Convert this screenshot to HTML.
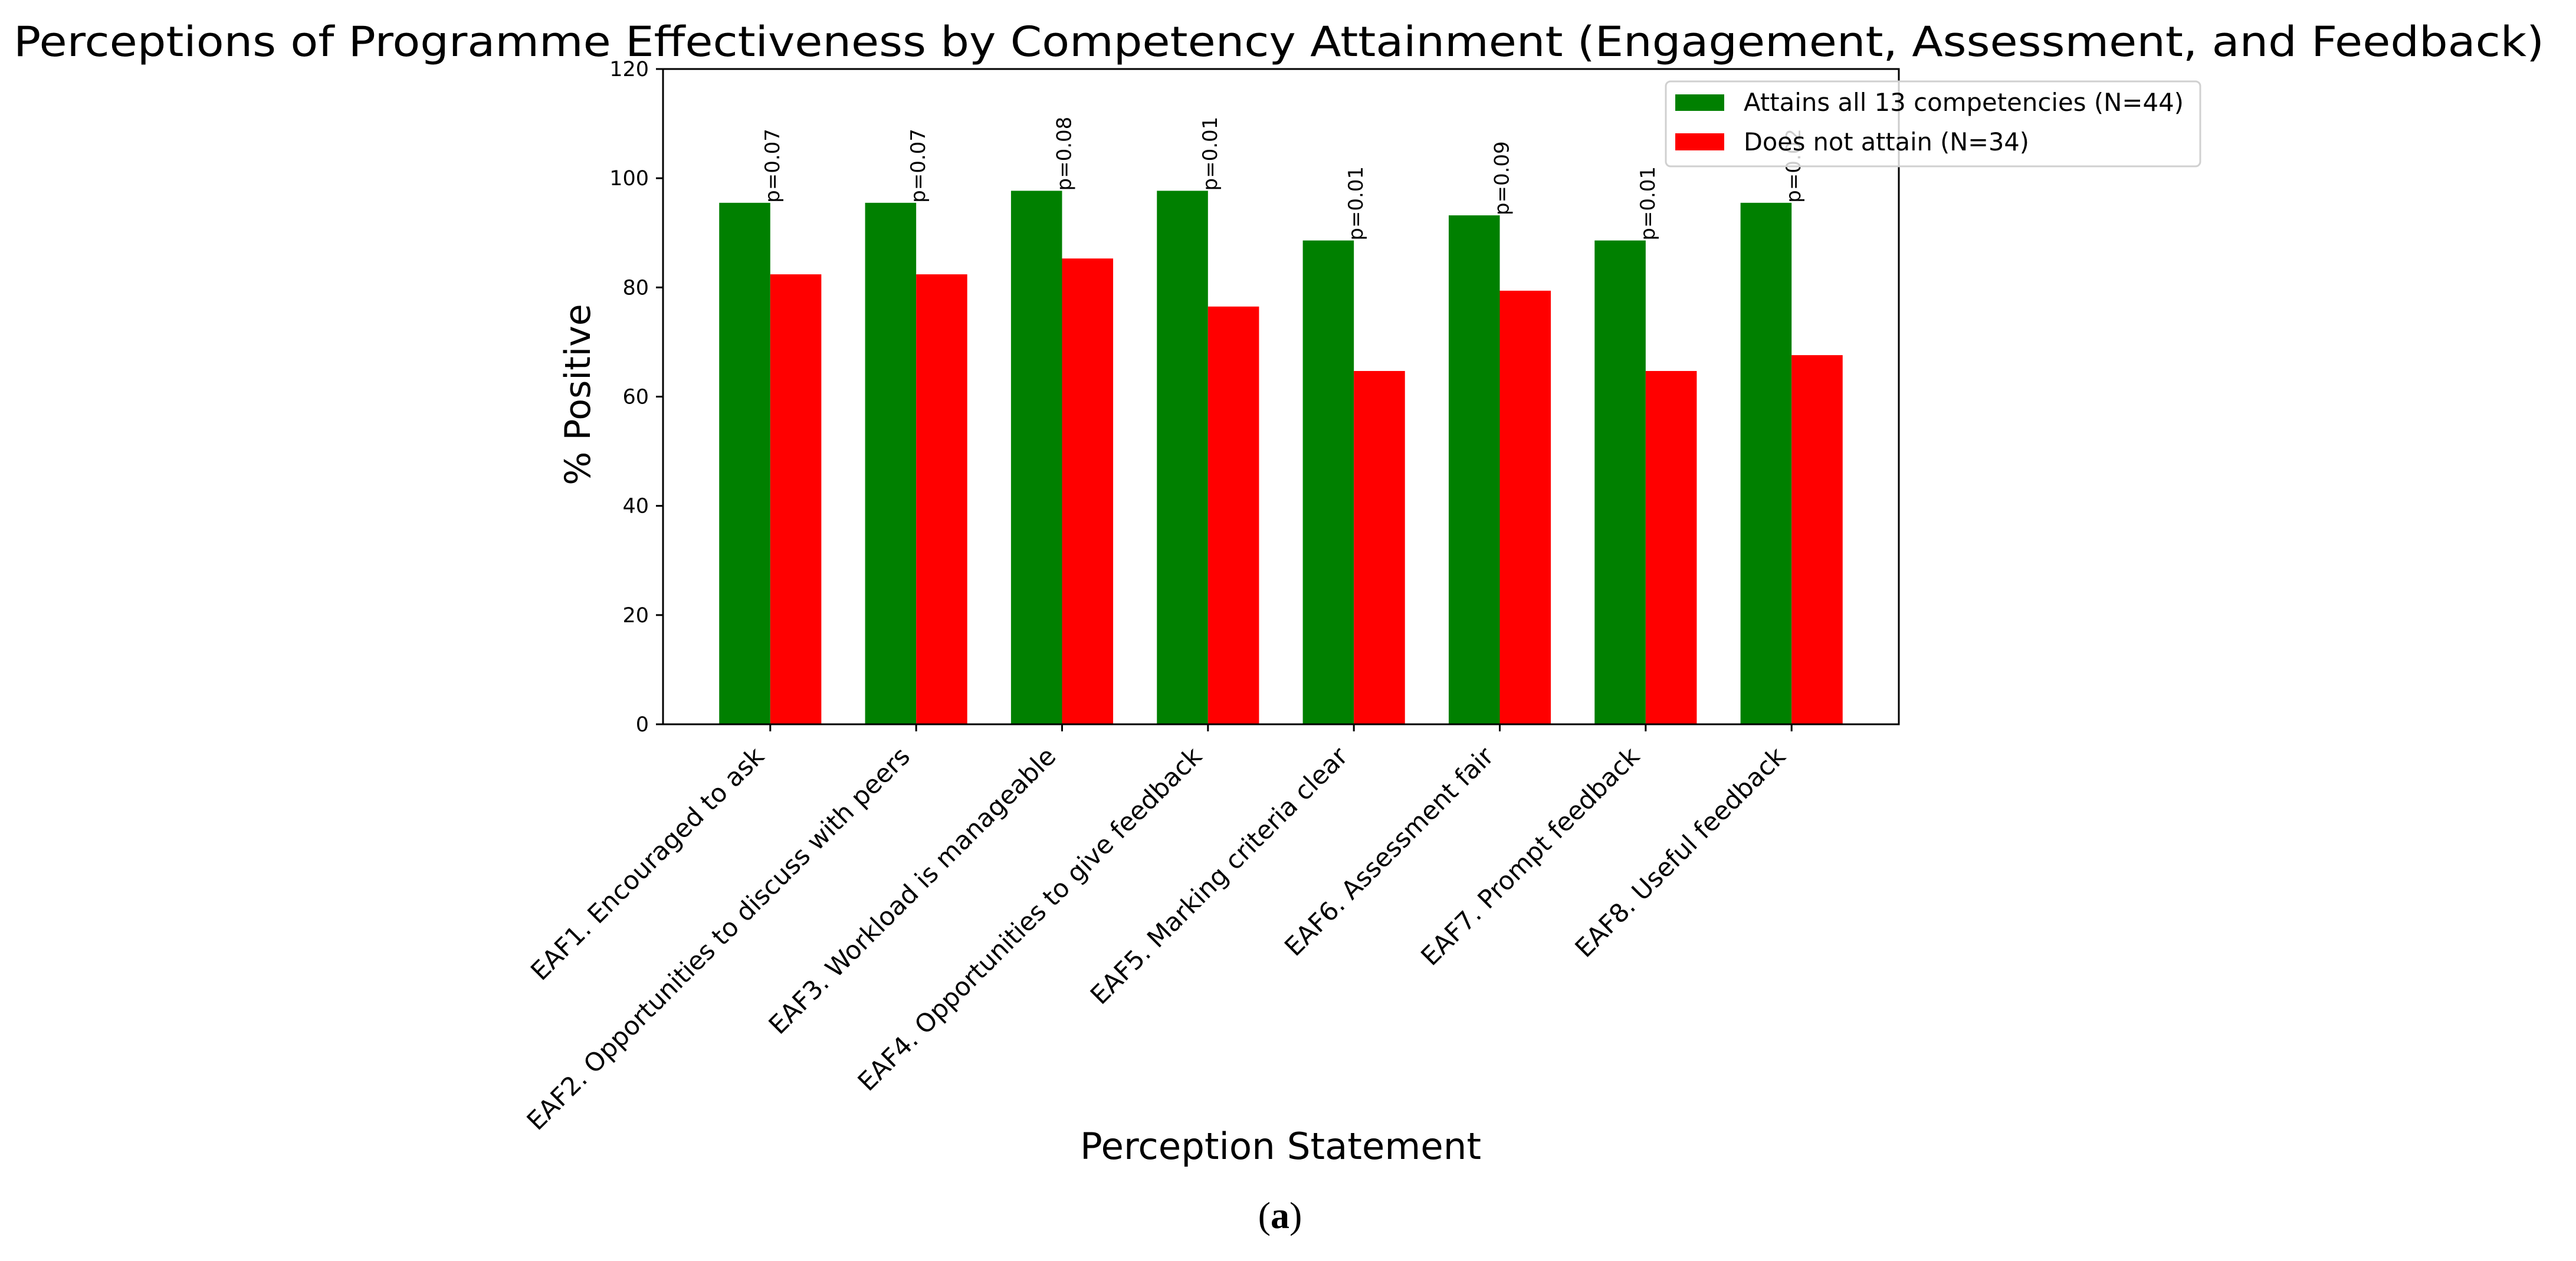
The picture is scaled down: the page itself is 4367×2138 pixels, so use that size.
<!DOCTYPE html>
<html><head><meta charset="utf-8"><style>
html,body{margin:0;padding:0;background:#fff;}
svg{display:block;}
text{font-family:"DejaVu Sans","Liberation Sans",sans-serif;fill:#000;}
</style></head><body>
<svg id="chart" width="4367" height="2138" viewBox="0 0 4367 2138">
<text x="2168" y="95" font-size="70" text-anchor="middle" textLength="4290" lengthAdjust="spacingAndGlyphs">Perceptions of Programme Effectiveness by Competency Attainment (Engagement, Assessment, and Feedback)</text>
<g id="plot"></g>
<text x="0" y="0" transform="translate(1000,669) rotate(-90)" font-size="60" text-anchor="middle">% Positive</text>
<text x="2171" y="1965" font-size="62" text-anchor="middle" textLength="680" lengthAdjust="spacingAndGlyphs">Perception Statement</text>
<text x="2170" y="2082" font-size="64" text-anchor="middle" style="font-family:'Liberation Serif',serif">(<tspan font-weight="bold">a</tspan>)</text>
<g>
<rect x="2824" y="138" width="906" height="144" rx="8" fill="#fff" fill-opacity="0.8" stroke="#d0d0d0" stroke-width="3"/>
<rect x="2840" y="160" width="83" height="28" fill="#008000"/>
<text x="2956" y="188" font-size="42" textLength="746" lengthAdjust="spacingAndGlyphs">Attains all 13 competencies (N=44)</text>
<rect x="2840" y="226" width="83" height="29" fill="#ff0000"/>
<text x="2956" y="255" font-size="42" textLength="484" lengthAdjust="spacingAndGlyphs">Does not attain (N=34)</text>
</g>
</svg>
<script>
const categories = ["EAF1. Encouraged to ask","EAF2. Opportunities to discuss with peers","EAF3. Workload is manageable","EAF4. Opportunities to give feedback","EAF5. Marking criteria clear","EAF6. Assessment fair","EAF7. Prompt feedback","EAF8. Useful feedback"];
const attainsValues = [95.5, 95.5, 97.7, 97.7, 88.6, 93.2, 88.6, 95.5];
const notAttainValues = [82.4, 82.4, 85.3, 76.5, 64.7, 79.4, 64.7, 67.6];
const pLabels = ["p=0.07","p=0.07","p=0.08","p=0.01","p=0.01","p=0.09","p=0.01","p=0.02"];
const yTicks = [0, 20, 40, 60, 80, 100, 120];

const NS = "http://www.w3.org/2000/svg";
const L = 1124, R = 3219, T = 117, B = 1228;
const yMin = 0, yMax = 120;
const barW = 0.35;
const xMax = categories.length - 1 + 0.735;
function xs(v){ return L + (v - (-0.735)) / (xMax + 0.735) * (R - L); }
function ys(v){ return B - (v - yMin) / (yMax - yMin) * (B - T); }
const g = document.getElementById('plot');
function mk(tag, attrs){ const e = document.createElementNS(NS, tag); for (const k in attrs) e.setAttribute(k, attrs[k]); g.appendChild(e); return e; }

categories.forEach((c, i) => {
  const gx0 = xs(i - barW), gx1 = xs(i);
  const gr = mk('rect', {x: gx0, y: ys(attainsValues[i]), width: gx1 - gx0, height: ys(0) - ys(attainsValues[i]), fill: '#008000'});
  
  
  const rx0 = xs(i), rx1 = xs(i + barW);
  const rr = mk('rect', {x: rx0, y: ys(notAttainValues[i]), width: rx1 - rx0, height: ys(0) - ys(notAttainValues[i]), fill: '#ff0000'});
  
  
  const cx = xs(i);
  const pt = mk('text', {x: 0, y: 0, transform: 'translate(' + (cx + 15) + ',' + ys(attainsValues[i]) + ') rotate(-90)', 'font-size': 34});
  pt.textContent = pLabels[i];
  
  
  const tk = mk('line', {x1: cx, x2: cx, y1: B, y2: B + 12, stroke: '#000', 'stroke-width': 3});
  
  
  const lb = mk('text', {x: 0, y: 0, transform: 'translate(' + (cx - 8) + ',' + (B + 57) + ') rotate(-45)', 'font-size': 43, 'text-anchor': 'end'});
  lb.textContent = c;
  
  
});

yTicks.forEach((v, i) => {
  const y = ys(v);
  const tk = mk('line', {x1: L - 12, x2: L, y1: y, y2: y, stroke: '#000', 'stroke-width': 3});
  
  
  const tl = mk('text', {x: L - 24, y: y + 12, 'font-size': 35, 'text-anchor': 'end'});
  tl.textContent = String(v);
  
  
});

const frame = mk('rect', {x: L, y: T, width: R - L, height: B - T, fill: 'none', stroke: '#000', 'stroke-width': 3});


</script>
</body></html>
